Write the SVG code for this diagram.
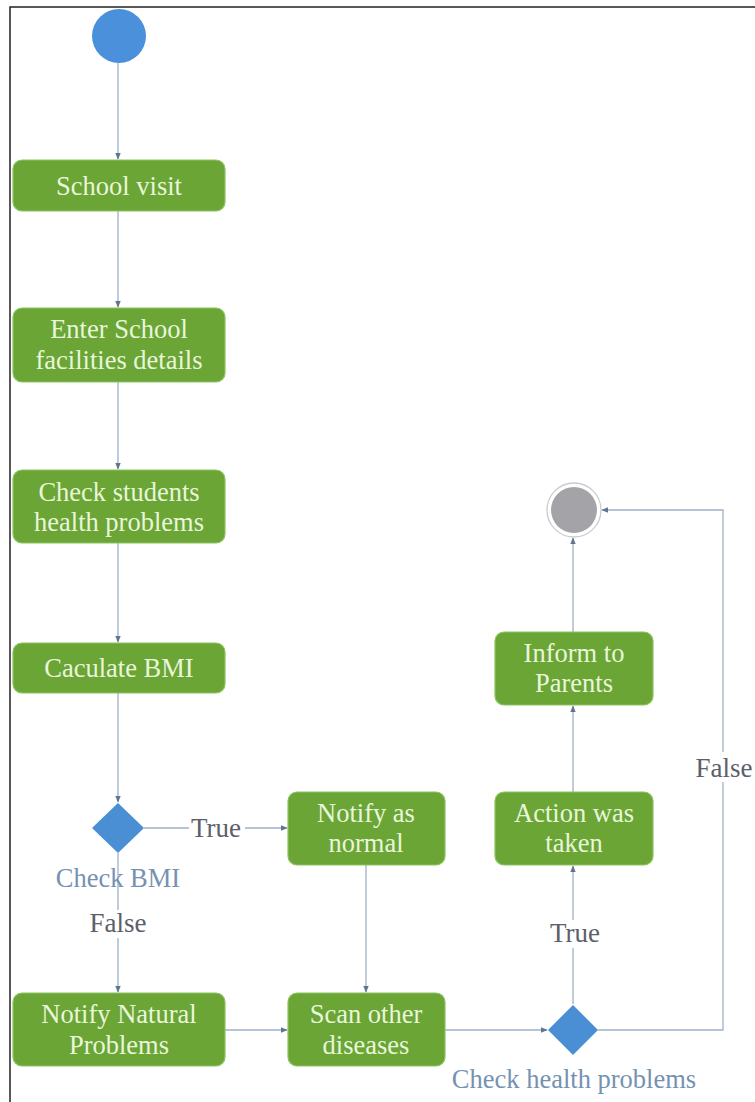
<svg xmlns="http://www.w3.org/2000/svg" width="755" height="1102" viewBox="0 0 755 1102">
<style>
.box{fill:#6aa536;stroke:#8cc35e;stroke-width:1.2}
.bt{font-family:"Liberation Serif","Times New Roman",serif;font-size:26.5px;fill:#e9f6da;text-anchor:middle}
.lbl{font-family:"Liberation Serif","Times New Roman",serif;font-size:27px;fill:#5c6068;text-anchor:middle}
.dl{font-family:"Liberation Serif","Times New Roman",serif;font-size:26.5px;fill:#7592b2;text-anchor:middle}
.con{fill:none;stroke:#9fb0c8;stroke-width:1.3}
.dia{fill:#4a8fd4}
</style>
<defs>
<marker id="arr" viewBox="0 0 10 10" refX="9" refY="5" markerWidth="7" markerHeight="7" orient="auto" markerUnits="userSpaceOnUse">
<path d="M0,1 L10,5 L0,9 z" fill="#607690"/>
</marker>
</defs>
<rect width="755" height="1102" fill="#ffffff"/>
<path d="M10,1102 L10,7 L755,7" fill="none" stroke="#222" stroke-width="1.5"/>

<g id="connectors">
<path class="con" d="M118,63 L118,159" marker-end="url(#arr)"/>
<path class="con" d="M118,211 L118,307" marker-end="url(#arr)"/>
<path class="con" d="M118,382 L118,469" marker-end="url(#arr)"/>
<path class="con" d="M118,543 L118,642" marker-end="url(#arr)"/>
<path class="con" d="M118,693 L118,802" marker-end="url(#arr)"/>
<path class="con" d="M144,828 L287,828" marker-end="url(#arr)"/>
<path class="con" d="M118,853 L118,992" marker-end="url(#arr)"/>
<path class="con" d="M366,865 L366,992" marker-end="url(#arr)"/>
<path class="con" d="M225,1030 L287,1030" marker-end="url(#arr)"/>
<path class="con" d="M445,1030 L547,1030" marker-end="url(#arr)"/>
<path class="con" d="M573,1004 L573,866" marker-end="url(#arr)"/>
<path class="con" d="M573,792 L573,706" marker-end="url(#arr)"/>
<path class="con" d="M573,632 L573,538" marker-end="url(#arr)"/>
<path class="con" d="M598,1030 L723,1030 L723,510 L602,510" marker-end="url(#arr)"/>
<rect x="189" y="814" width="56" height="26" fill="#ffffff"/>
<text class="lbl" x="216" y="837">True</text>
<rect x="88" y="910" width="60" height="28" fill="#ffffff"/>
<text class="lbl" x="118" y="932">False</text>
<rect x="549" y="920" width="52" height="28" fill="#ffffff"/>
<text class="lbl" x="575" y="942">True</text>
<rect x="695" y="752" width="60" height="30" fill="#ffffff"/>
<text class="lbl" x="724" y="777">False</text>
</g>

<g id="start"><circle cx="119" cy="36" r="27" fill="#4a90da"/></g>

<g id="school-visit">
<rect class="box" x="13" y="160" width="212" height="51" rx="9"/>
<text class="bt" x="119" y="195">School visit</text>
</g>

<g id="enter-facilities">
<rect class="box" x="13" y="308" width="212" height="74" rx="9"/>
<text class="bt" x="119" y="338">Enter School</text>
<text class="bt" x="119" y="369">facilities details</text>
</g>

<g id="check-students">
<rect class="box" x="13" y="470" width="212" height="73" rx="9"/>
<text class="bt" x="119" y="501">Check students</text>
<text class="bt" x="119" y="531">health problems</text>
</g>

<g id="calculate-bmi">
<rect class="box" x="13" y="643" width="212" height="50" rx="9"/>
<text class="bt" x="119" y="677">Caculate BMI</text>
</g>

<g id="check-bmi">
<path class="dia" d="M118,803 L144,828 L118,853 L92,828 z"/>
<text class="dl" x="118" y="887">Check BMI</text>
</g>

<g id="notify-normal">
<rect class="box" x="288" y="792" width="157" height="73" rx="9"/>
<text class="bt" x="366" y="822">Notify as</text>
<text class="bt" x="366" y="852">normal</text>
</g>

<g id="notify-natural">
<rect class="box" x="13" y="993" width="212" height="73" rx="9"/>
<text class="bt" x="119" y="1023">Notify Natural</text>
<text class="bt" x="119" y="1054">Problems</text>
</g>

<g id="scan-diseases">
<rect class="box" x="288" y="993" width="157" height="73" rx="9"/>
<text class="bt" x="366" y="1023">Scan other</text>
<text class="bt" x="366" y="1054">diseases</text>
</g>

<g id="check-health">
<path class="dia" d="M573,1005 L598,1030 L573,1055 L548,1030 z"/>
<text class="dl" x="574" y="1088">Check health problems</text>
</g>

<g id="action-taken">
<rect class="box" x="495" y="792" width="158" height="73" rx="9"/>
<text class="bt" x="574" y="822">Action was</text>
<text class="bt" x="574" y="852">taken</text>
</g>

<g id="inform-parents">
<rect class="box" x="495" y="632" width="158" height="73" rx="9"/>
<text class="bt" x="574" y="662">Inform to</text>
<text class="bt" x="574" y="692">Parents</text>
</g>

<g id="end">
<circle cx="574" cy="510" r="27" fill="#ffffff" stroke="#c9ccd2" stroke-width="1.3"/>
<circle cx="574" cy="510" r="23" fill="#a3a3a8"/>
</g>
</svg>
